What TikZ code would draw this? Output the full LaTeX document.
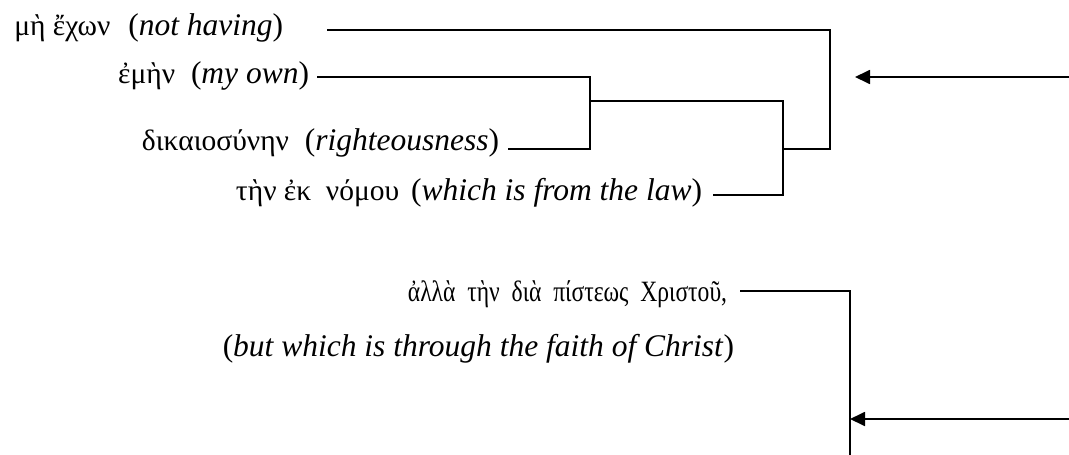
\documentclass[tikz,border=0pt]{standalone}
\usepackage{fontspec}
\setmainfont{Liberation Serif}
\usetikzlibrary{arrows.meta}
\newcommand{\narrowgk}[1]{\scalebox{0.8}[1]{#1}}
\begin{document}
\begin{tikzpicture}[x=1pt,y=-1pt,line width=1.8pt,
  eng/.style={inner sep=0pt,anchor=base east,font=\fontsize{31.5}{34}\selectfont},
  grk/.style={inner sep=0pt,anchor=base east,font=\fontsize{29.5}{34}\selectfont},
  arr/.style={-{Triangle[length=15pt,width=14pt]}}]
\useasboundingbox (0,0) rectangle (1069,455);
\node[eng] (e1) at (284,35) {(\textit{not having})};
\node[grk] (g1) at ([xshift=-16pt]e1.base west) {μὴ ἔχων};
\node[eng] (e2) at (310,83) {(\textit{my own})};
\node[grk] (g2) at ([xshift=-14pt]e2.base west) {ἐμὴν};
\node[eng] (e3) at (500,150) {(\textit{righteousness})};
\node[grk] (g3) at ([xshift=-14pt]e3.base west) {δικαιοσύνην};
\node[eng] (e4) at (703,200) {(\textit{which is from the law})};
\node[grk] (g4) at ([xshift=-10pt]e4.base west) {τὴν ἐκ\ \ νόμου};
\node[grk] (g5) at (728,301) {\narrowgk{ἀλλὰ\ \ τὴν\ \ διὰ\ \ πίστεως\ \ Χριστοῦ,}};
\node[eng] (e6) at (735,356) {(\textit{but which is through the faith of Christ})};
% coordinates
\coordinate (s1) at (327,30);
\coordinate (c1) at (830,30);
\coordinate (c1b) at (830,149);
\coordinate (j1) at (783,149);
\coordinate (s2) at (317,77);
\coordinate (c2) at (590,77);
\coordinate (c2b) at (590,149);
\coordinate (s3) at (508,149);
\coordinate (m1) at (590,101);
\coordinate (m2) at (783,101);
\coordinate (m3) at (783,195);
\coordinate (s4) at (713,195);
\coordinate (a1s) at (1069,77);
\coordinate (a1e) at (855,77);
\coordinate (s5) at (740,291);
\coordinate (c5) at (850,291);
\coordinate (c5b) at (850,455);
\coordinate (a2s) at (1069,419);
\coordinate (a2e) at (850,419);
% connectors
\draw (s1) -- (c1) -- (c1b) -- (j1);
\draw (s2) -- (c2) -- (c2b) -- (s3);
\draw (m1) -- (m2) -- (m3) -- (s4);
\draw[arr] (a1s) -- (a1e);
\draw (s5) -- (c5) -- (c5b);
\draw[arr] (a2s) -- (a2e);
\end{tikzpicture}
\end{document}
